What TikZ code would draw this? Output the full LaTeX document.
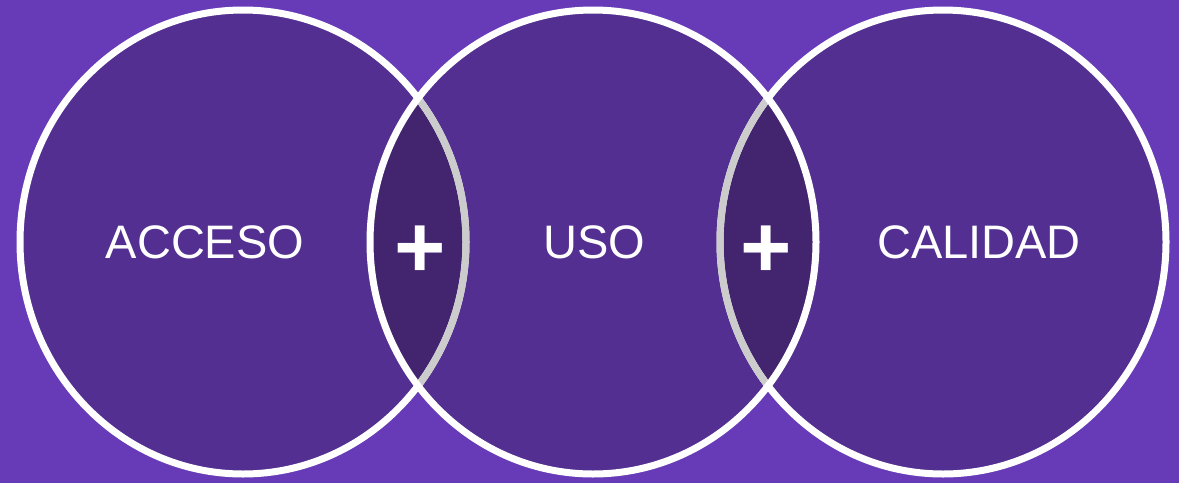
\documentclass[tikz,border=0pt]{standalone}
\usepackage{fontspec}
\setmainfont{Liberation Sans}
\definecolor{fondo}{HTML}{673AB7}
\definecolor{circulo}{HTML}{522F91}
\definecolor{interseccion}{HTML}{42246F}
\definecolor{borde}{HTML}{CCCCCC}

\begin{document}
\begin{tikzpicture}[%
      x=1pt, y=-1pt,
      aro/.style={line width=7pt},
      etiqueta/.style={text=white, inner sep=0pt, font=\fontsize{47}{47}\selectfont},
      mas/.style={text=white, inner sep=0pt, font=\fontsize{88}{88}\selectfont\bfseries},
      ]
      \fill [fondo] (0,0) rectangle (1179,483);
      \useasboundingbox (0,0) rectangle (1179,483);

      % the three circles
      \fill [circulo] (243,242) ellipse [x radius=223pt, y radius=232pt];
      \fill [circulo] (593,242) ellipse [x radius=223pt, y radius=232pt];
      \fill [circulo] (943,242) ellipse [x radius=223pt, y radius=232pt];

      % overlaps
      \begin{scope}
        \clip (243,242) ellipse [x radius=223pt, y radius=232pt];
        \fill [interseccion] (593,242) ellipse [x radius=223pt, y radius=232pt];
      \end{scope}
      \begin{scope}
        \clip (943,242) ellipse [x radius=223pt, y radius=232pt];
        \fill [interseccion] (593,242) ellipse [x radius=223pt, y radius=232pt];
      \end{scope}

      \draw [aro, white] (243,242) ellipse [x radius=223pt, y radius=232pt];
      \draw [aro, white] (943,242) ellipse [x radius=223pt, y radius=232pt];

      % grey arcs inside the middle circle
      \begin{scope}
        \clip (593,242) ellipse [x radius=223pt, y radius=232pt];
        \draw [aro, borde] (243,242) ellipse [x radius=223pt, y radius=232pt];
        \draw [aro, borde] (943,242) ellipse [x radius=223pt, y radius=232pt];
      \end{scope}
      \draw [aro, white] (593,242) ellipse [x radius=223pt, y radius=232pt];

      \node [etiqueta] (acceso) at (205,242) {ACCESO};
      \node [etiqueta] (uso) at (594,242) {USO};
      \node [etiqueta] (calidad) at (979,242) {CALIDAD};

      \node [mas] (mas1) at (420,252) {+};
      \node [mas] (mas2) at (766,252) {+};
\end{tikzpicture}
\end{document}
